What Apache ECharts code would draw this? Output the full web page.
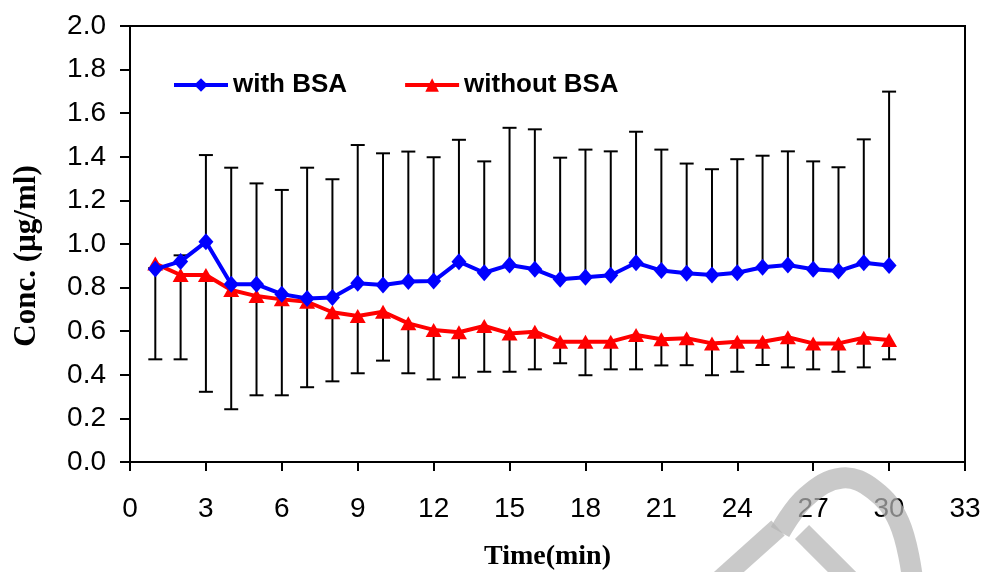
<!DOCTYPE html>
<html>
<head>
<meta charset="utf-8">
<script src="https://cdn.jsdelivr.net/npm/echarts@6/dist/echarts.min.js"></script>
<style>
html,body{margin:0;padding:0;background:#fff;}
#chart{width:982px;height:572px;}
</style>
</head>
<body>
<div id="chart"></div>
<script>
// ---- data ----
var times = [1,2,3,4,5,6,7,8,9,10,11,12,13,14,15,16,17,18,19,20,21,22,23,24,25,26,27,28,29,30];
var withBSA = [0.885,0.92,1.01,0.815,0.815,0.77,0.75,0.755,0.82,0.812,0.828,0.83,0.919,0.868,0.904,0.884,0.838,0.847,0.857,0.914,0.878,0.866,0.858,0.868,0.893,0.904,0.884,0.876,0.914,0.901];
var withBSAUpper = [0.89,0.948,1.408,1.35,1.278,1.248,1.35,1.297,1.454,1.416,1.424,1.398,1.478,1.379,1.533,1.526,1.396,1.433,1.425,1.515,1.433,1.369,1.343,1.389,1.405,1.425,1.379,1.352,1.48,1.699];
var withoutBSA = [0.91,0.858,0.858,0.789,0.761,0.746,0.735,0.687,0.67,0.689,0.636,0.606,0.595,0.624,0.59,0.598,0.552,0.552,0.552,0.583,0.563,0.568,0.544,0.552,0.552,0.572,0.544,0.544,0.57,0.56];
var withoutBSALower = [0.471,0.471,0.322,0.242,0.306,0.306,0.343,0.37,0.407,0.465,0.407,0.379,0.388,0.414,0.414,0.425,0.453,0.398,0.425,0.425,0.443,0.444,0.398,0.414,0.445,0.434,0.425,0.414,0.434,0.471];
var xTicks = [0,3,6,9,12,15,18,21,24,27,30,33];
var yTicks = [0,0.2,0.4,0.6,0.8,1.0,1.2,1.4,1.6,1.8,2.0];
var seriesNames = ['with BSA','without BSA'];

var blueData = times.map(function(t,i){return [t, withBSA[i]];});
var redData = times.map(function(t,i){return [t, withoutBSA[i]];});
var blueErr = times.map(function(t,i){return [t, withBSA[i], withBSAUpper[i]];});
var redErr = times.map(function(t,i){return [t, withoutBSALower[i], withoutBSA[i]];});

function errRender(capAtHigh){
  return function(params, api){
    var x = api.value(0);
    var lo = api.coord([x, api.value(1)]);
    var hi = api.coord([x, api.value(2)]);
    var capY = capAtHigh ? hi[1] : lo[1];
    var hw = 7;
    var st = {stroke:'#000', lineWidth:2};
    return {type:'group', children:[
      {type:'line', shape:{x1:lo[0], y1:lo[1], x2:hi[0], y2:hi[1]}, style:st},
      {type:'line', shape:{x1:lo[0]-hw, y1:capY, x2:lo[0]+hw, y2:capY}, style:st}
    ]};
  };
}

var chart = echarts.init(document.getElementById('chart'), null, {renderer:'canvas'});
var option = {
  backgroundColor:'#fff',
  animation:false,
  grid:{left:130, right:17, top:26, bottom:110, containLabel:false, outerBoundsMode:'none',
        show:true, borderColor:'#000', borderWidth:2, backgroundColor:'transparent'},
  legend:{
    left:167, top:67, itemWidth:54, itemHeight:17, itemGap:56,
    data: seriesNames,
    lineStyle:{width:4},
    textStyle:{fontFamily:'Liberation Sans, Arial, sans-serif', fontWeight:'bold', fontSize:26, color:'#000'}
  },
  xAxis:{
    type:'value', min:0, max:33, interval:3,
    name:'Time(min)', nameLocation:'middle', nameGap:81,
    nameTextStyle:{fontFamily:'Liberation Serif, Times New Roman, serif', fontWeight:'bold', fontSize:28, color:'#000', letterSpacing:-1},
    axisLine:{show:true, lineStyle:{color:'#000', width:2}},
    axisTick:{show:true, inside:false, length:9, lineStyle:{color:'#000', width:2}},
    axisLabel:{color:'#000', fontFamily:'Liberation Sans, Arial, sans-serif', fontSize:28, margin:33,
      customValues: xTicks},
    splitLine:{show:false}
  },
  yAxis:{
    type:'value', min:0, max:2, interval:0.2,
    name:'Conc. (\u00b5g/ml)', nameLocation:'middle', nameGap:88, nameRotate:90,
    nameTextStyle:{fontFamily:'Liberation Serif, Times New Roman, serif', fontWeight:'bold', fontSize:31, color:'#000', padding:[0,24,0,0]},
    axisLine:{show:true, lineStyle:{color:'#000', width:2}},
    axisTick:{show:true, inside:false, length:10, lineStyle:{color:'#000', width:2}},
    axisLabel:{color:'#000', fontFamily:'Liberation Sans, Arial, sans-serif', fontSize:28, margin:24,
      formatter:function(v){return v.toFixed(1);}},
    splitLine:{show:false}
  },
  series:[
    {type:'custom', name:'errBlue', renderItem:errRender(true), data:blueErr, z:1, silent:true, encode:{x:0,y:[1,2]}},
    {type:'custom', name:'errRed', renderItem:errRender(false), data:redErr, z:1, silent:true, encode:{x:0,y:[1,2]}},
    {type:'line', name:seriesNames[0], data:blueData, z:3,
     lineStyle:{color:'#0000ff', width:4}, itemStyle:{color:'#0000ff'},
     symbol:'diamond', symbolSize:[15,17], showAllSymbol:true},
    {type:'line', name:seriesNames[1], data:redData, z:2,
     lineStyle:{color:'#ff0000', width:4}, itemStyle:{color:'#ff0000'},
     symbol:'triangle', symbolSize:[16,14], showAllSymbol:true}
  ],
  graphic:[
    {type:'polyline', silent:true, z:100,
     shape:{points:[[780,532],[806,497],[842,478],[874,490],[899,522],[912,575]], smooth:0.4},
     style:{stroke:'rgba(180,180,180,0.72)', lineWidth:21, fill:null}},
    {type:'polyline', silent:true, z:100,
     shape:{points:[[720,580],[778,528]]},
     style:{stroke:'rgba(180,180,180,0.72)', lineWidth:20, fill:null}},
    {type:'polyline', silent:true, z:100,
     shape:{points:[[802,532],[850,580]]},
     style:{stroke:'rgba(180,180,180,0.72)', lineWidth:20, fill:null}}
  ]
};
chart.setOption(option);
</script>
</body>
</html>
